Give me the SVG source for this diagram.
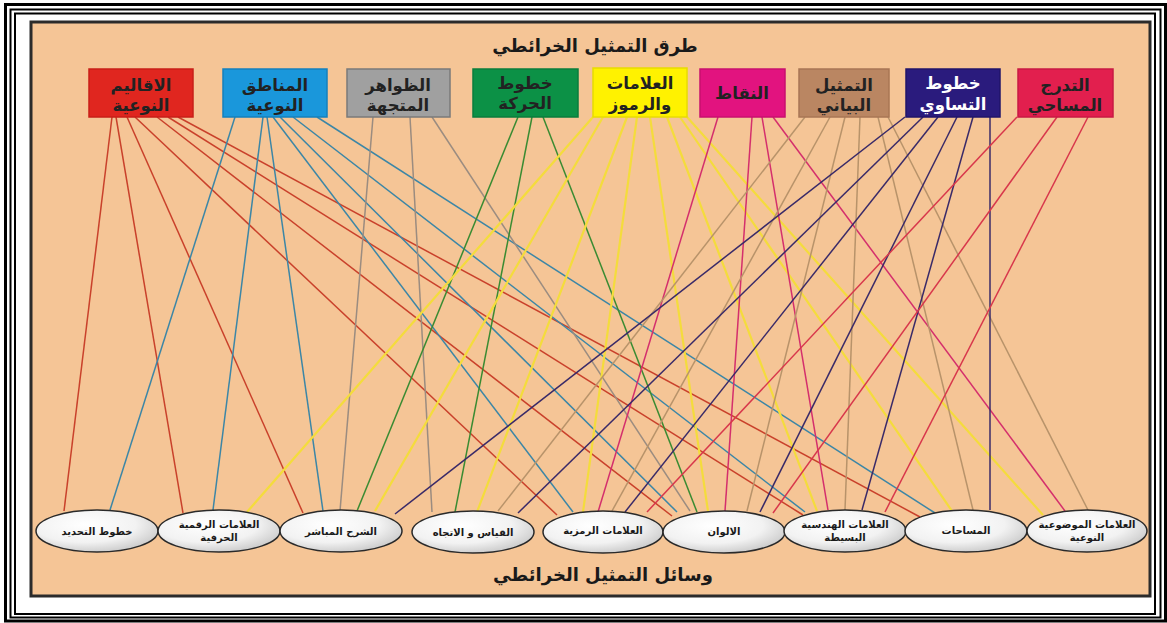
<svg xmlns="http://www.w3.org/2000/svg" width="1167" height="623" viewBox="0 0 1167 623">
<defs>
<radialGradient id="eg" cx="0.4" cy="0.35" r="0.7">
<stop offset="0" stop-color="#ffffff"/>
<stop offset="0.6" stop-color="#f2f2f2"/>
<stop offset="1" stop-color="#c8c8c8"/>
</radialGradient>
</defs>
<style>
.frame{fill:none;stroke:#000}
.box{stroke-width:1.5}
.bt{font-family:"DejaVu Sans","Noto Sans",sans-serif;font-weight:bold;font-size:16.5px;text-anchor:middle;fill:#222}
.title{font-family:"DejaVu Sans","Noto Sans",sans-serif;font-weight:bold;font-size:18px;text-anchor:middle;fill:#1a1a1a}
.el{fill:url(#eg);stroke:#2a2a2a;stroke-width:1.5}
.et{font-family:"DejaVu Sans","Noto Sans",sans-serif;font-weight:bold;font-size:10px;text-anchor:middle;fill:#1a1a1a}
#connectors line{stroke-width:1.5;fill:none}
.r{stroke:#c9412b}.b{stroke:#3c86a6}.g{stroke:#9b8c80}.gr{stroke:#3a8b32}
.y{stroke:#f4dc3c;stroke-width:2.2!important}.m{stroke:#d42f6c}.br{stroke:#b8936a}.n{stroke:#3a2a68}.c{stroke:#d8374b}
</style>
<rect x="0" y="0" width="1167" height="623" fill="#ffffff"/>
<rect class="frame" x="5.5" y="4.5" width="1160" height="616.5" stroke-width="3"/>
<rect class="frame" x="10.5" y="9.5" width="1150" height="608" stroke-width="2"/>
<rect class="frame" x="15" y="13.5" width="1140" height="600.5" stroke-width="2"/>
<rect x="31" y="22" width="1119" height="574" fill="#f5c596" stroke="#2b2b2b" stroke-width="3"/>
<text class="title" x="595" y="52" direction="rtl">طرق التمثيل الخرائطي</text>
<text class="title" x="603" y="581" direction="rtl">وسائل التمثيل الخرائطي</text>
<g id="connectors">
<line class="r" x1="112" y1="117" x2="64" y2="511"/>
<line class="r" x1="116" y1="117" x2="183" y2="513"/>
<line class="r" x1="127" y1="117" x2="303" y2="513"/>
<line class="r" x1="135" y1="117" x2="557" y2="515"/>
<line class="r" x1="157" y1="117" x2="672" y2="516"/>
<line class="r" x1="168" y1="117" x2="803" y2="515"/>
<line class="r" x1="178" y1="117" x2="920" y2="517"/>
<line class="b" x1="235" y1="117" x2="110" y2="510"/>
<line class="b" x1="263" y1="117" x2="213" y2="510"/>
<line class="b" x1="267" y1="117" x2="323" y2="511"/>
<line class="b" x1="273" y1="117" x2="573" y2="512"/>
<line class="b" x1="280" y1="117" x2="677" y2="512"/>
<line class="b" x1="293" y1="117" x2="805" y2="512"/>
<line class="b" x1="317" y1="117" x2="935" y2="513"/>
<line class="g" x1="373" y1="117" x2="340" y2="511"/>
<line class="g" x1="410" y1="117" x2="432" y2="512"/>
<line class="g" x1="432" y1="117" x2="690" y2="511"/>
<line class="gr" x1="518" y1="117" x2="357" y2="511"/>
<line class="gr" x1="532" y1="117" x2="455" y2="512"/>
<line class="gr" x1="543" y1="117" x2="697" y2="512"/>
<line class="y" x1="593" y1="117" x2="247" y2="512"/>
<line class="y" x1="603" y1="117" x2="375" y2="511"/>
<line class="y" x1="627" y1="117" x2="477" y2="512"/>
<line class="y" x1="637" y1="117" x2="583" y2="512"/>
<line class="y" x1="650" y1="117" x2="708" y2="511"/>
<line class="y" x1="667" y1="117" x2="817" y2="511"/>
<line class="y" x1="680" y1="117" x2="952" y2="511"/>
<line class="y" x1="687" y1="117" x2="1043" y2="515"/>
<line class="m" x1="718" y1="117" x2="598" y2="512"/>
<line class="m" x1="752" y1="117" x2="725" y2="511"/>
<line class="m" x1="762" y1="117" x2="828" y2="510"/>
<line class="m" x1="773" y1="117" x2="1065" y2="511"/>
<line class="br" x1="805" y1="117" x2="498" y2="511"/>
<line class="br" x1="830" y1="117" x2="612" y2="511"/>
<line class="br" x1="845" y1="117" x2="747" y2="511"/>
<line class="br" x1="860" y1="117" x2="845" y2="510"/>
<line class="br" x1="878" y1="117" x2="973" y2="510"/>
<line class="br" x1="888" y1="117" x2="1088" y2="510"/>
<line class="n" x1="905" y1="117" x2="395" y2="514"/>
<line class="n" x1="923" y1="117" x2="518" y2="513"/>
<line class="n" x1="938" y1="117" x2="625" y2="512"/>
<line class="n" x1="957" y1="117" x2="760" y2="512"/>
<line class="n" x1="973" y1="117" x2="862" y2="510"/>
<line class="n" x1="990" y1="117" x2="990" y2="510"/>
<line class="c" x1="1017" y1="117" x2="647" y2="512"/>
<line class="c" x1="1057" y1="117" x2="773" y2="513"/>
<line class="c" x1="1088" y1="117" x2="885" y2="512"/>
</g>
<g id="box1"><rect class="box" x="89" y="69" width="104" height="48" fill="#e0261f" stroke="#c81f18"/><text class="bt" x="141" y="91" direction="rtl">الاقاليم</text><text class="bt" x="141" y="111" direction="rtl">النوعية</text></g>
<g id="box2"><rect class="box" x="223" y="69" width="104" height="48" fill="#1a97db" stroke="#1580bd"/><text class="bt" x="275" y="91" direction="rtl">المناطق</text><text class="bt" x="275" y="111" direction="rtl">النوعية</text></g>
<g id="box3"><rect class="box" x="347" y="69" width="103" height="48" fill="#a0a0a0" stroke="#7a7a7a"/><text class="bt" x="398" y="91" direction="rtl">الظواهر</text><text class="bt" x="398" y="111" direction="rtl">المتجهة</text></g>
<g id="box4"><rect class="box" x="473" y="69" width="105" height="48" fill="#0c9146" stroke="#0a7d3c"/><text class="bt" x="525" y="89" direction="rtl">خطوط</text><text class="bt" x="525" y="109" direction="rtl">الحركة</text></g>
<g id="box5"><rect class="box" x="593" y="68" width="94" height="49" fill="#fff200" stroke="#e8dc00"/><text class="bt" x="640" y="89" direction="rtl">العلامات</text><text class="bt" x="640" y="110" direction="rtl">والرموز</text></g>
<g id="box6"><rect class="box" x="700" y="69" width="85" height="48" fill="#e2137f" stroke="#c8106f"/><text class="bt" x="742" y="99" direction="rtl">النقاط</text></g>
<g id="box7"><rect class="box" x="799" y="69" width="90" height="48" fill="#ba8662" stroke="#a87655"/><text class="bt" x="844" y="91" direction="rtl">التمثيل</text><text class="bt" x="844" y="111" direction="rtl">البياني</text></g>
<g id="box8"><rect class="box" x="906" y="69" width="94" height="48" fill="#2a1b7d" stroke="#20146a"/><text class="bt" x="953" y="89" direction="rtl" style="fill:#ffffff">خطوط</text><text class="bt" x="953" y="110" direction="rtl" style="fill:#ffffff">التساوي</text></g>
<g id="box9"><rect class="box" x="1018" y="69" width="95" height="48" fill="#e21f4e" stroke="#c81a44"/><text class="bt" x="1065" y="91" direction="rtl">التدرج</text><text class="bt" x="1065" y="111" direction="rtl">المساحي</text></g>
<g id="el1"><ellipse class="el" cx="97" cy="531" rx="61" ry="21"/><text class="et" x="97" y="535" direction="rtl">خطوط التحديد</text></g>
<g id="el2"><ellipse class="el" cx="219" cy="531" rx="61" ry="21"/><text class="et" x="219" y="528" direction="rtl">العلامات الرقمية</text><text class="et" x="219" y="541" direction="rtl">الحرفية</text></g>
<g id="el3"><ellipse class="el" cx="341" cy="531" rx="61" ry="21"/><text class="et" x="341" y="535" direction="rtl">الشرح المباشر</text></g>
<g id="el4"><ellipse class="el" cx="473" cy="532" rx="61" ry="21"/><text class="et" x="473" y="536" direction="rtl">القياس و الاتجاه</text></g>
<g id="el5"><ellipse class="el" cx="603" cy="532" rx="60" ry="21"/><text class="et" x="603" y="534" direction="rtl">العلامات الرمزية</text></g>
<g id="el6"><ellipse class="el" cx="724" cy="532" rx="61" ry="21"/><text class="et" x="724" y="535" direction="rtl">الالوان</text></g>
<g id="el7"><ellipse class="el" cx="845" cy="531" rx="61" ry="21"/><text class="et" x="845" y="528" direction="rtl">العلامات الهندسية</text><text class="et" x="845" y="541" direction="rtl">البسيطة</text></g>
<g id="el8"><ellipse class="el" cx="966" cy="531" rx="61" ry="21"/><text class="et" x="966" y="534" direction="rtl">المساحات</text></g>
<g id="el9"><ellipse class="el" cx="1087" cy="531" rx="60" ry="21"/><text class="et" x="1087" y="528" direction="rtl">العلامات الموضوعية</text><text class="et" x="1087" y="541" direction="rtl">النوعية</text></g>
</svg>
